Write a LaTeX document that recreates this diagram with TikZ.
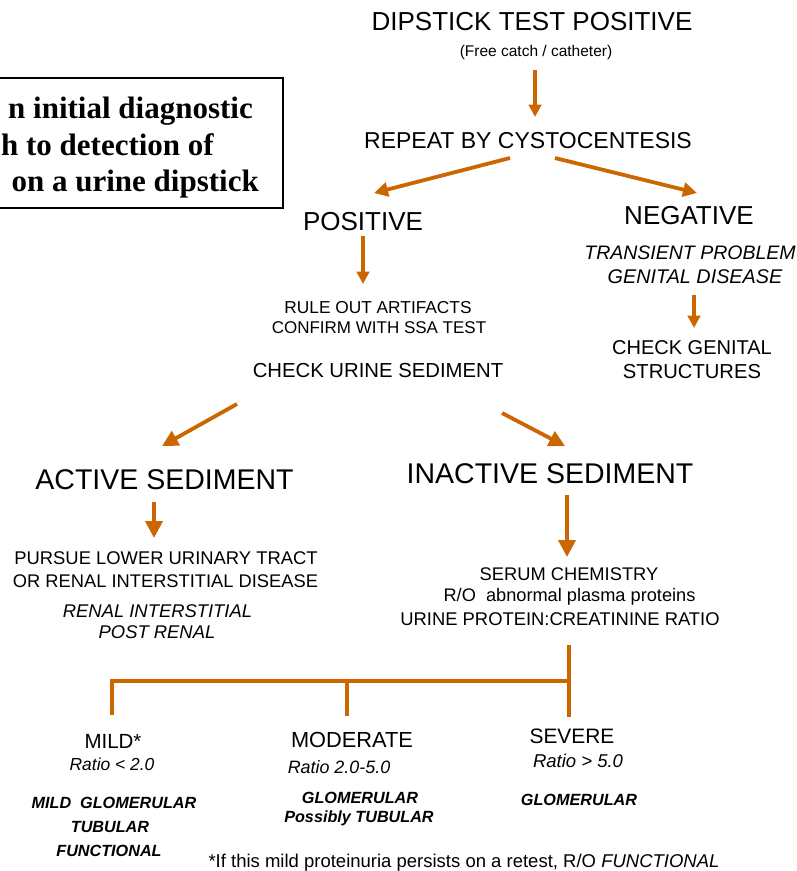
\documentclass[tikz,border=0pt]{standalone}
\usepackage{fontspec}
\setmainfont{Liberation Sans}
\newfontfamily\serifbox{Liberation Serif}
\usetikzlibrary{arrows.meta}
\definecolor{arr}{RGB}{204,102,0}
\begin{document}
\begin{tikzpicture}[x=1pt,y=-1pt,
  txt/.style={anchor=base,inner sep=0pt,font=\fontsize{#1}{#1}\selectfont},
  itx/.style={anchor=base,inner sep=0pt,font=\fontsize{#1}{#1}\selectfont\itshape},
  bix/.style={anchor=base,inner sep=0pt,font=\fontsize{16.2}{16.2}\selectfont\bfseries\itshape},
  ttl/.style={anchor=base east,inner sep=0pt,font=\fontsize{31}{31}\selectfont\serifbox\bfseries},
  flow/.style={draw=arr,line width=3.8pt,-{Triangle[length=#1,width=#1]}},
  flow/.default=12.5pt,
  bar/.style={draw=arr,line width=4.5pt},
  ]
\useasboundingbox (0,0) rectangle (797,871);
\clip (0,0) rectangle (797,871);
% title box
\draw[line width=2pt] (-20,78) rectangle (283,208);
\node[ttl] (t1) at (253,118) {n initial diagnostic};
\node[ttl] (t2) at (214,155) {h to detection of};
\node[ttl] (t3) at (259,191) {on a urine dipstick};
% top
\node[txt=26] (dip) at (532,30) {DIPSTICK TEST POSITIVE};
\node[txt=15.5] (free) at (536,56) {(Free catch / catheter)};
\node[txt=23] (rep) at (528,148) {REPEAT BY CYSTOCENTESIS};
\coordinate (a1s) at (535,70); \coordinate (a1e) at (535,117);
\draw[flow] (a1s) -- (a1e);
\coordinate (a2s) at (510,158); \coordinate (a2e) at (374,193);
\coordinate (a3s) at (555,158); \coordinate (a3e) at (697,193);
\draw[flow=14pt] (a2s) -- (a2e);
\draw[flow=14pt] (a3s) -- (a3e);
\node[txt=26] (pos) at (363,230) {POSITIVE};
\node[txt=26] (neg) at (689,224) {NEGATIVE};
\node[itx=19.5] (tr) at (690,259) {TRANSIENT PROBLEM};
\node[itx=19.8] (gd) at (695,283) {GENITAL DISEASE};
\coordinate (a4s) at (363,236); \coordinate (a4e) at (363,284);
\draw[flow] (a4s) -- (a4e);
\coordinate (a5s) at (694,295); \coordinate (a5e) at (694,328);
\draw[flow] (a5s) -- (a5e);
\node[txt=17.3] (rule) at (378,313) {RULE OUT ARTIFACTS};
\node[txt=17] (conf) at (379,333) {CONFIRM WITH SSA TEST};
\node[txt=20.3] (chk) at (378,377) {CHECK URINE SEDIMENT};
\node[txt=20] (cg1) at (692,354) {CHECK GENITAL};
\node[txt=20.2] (cg2) at (692,378) {STRUCTURES};
\coordinate (a6s) at (237,404); \coordinate (a6e) at (162,446);
\coordinate (a7s) at (502,413); \coordinate (a7e) at (565,446);
\draw[flow=16pt] (a6s) -- (a6e);
\draw[flow=16pt] (a7s) -- (a7e);
\node[txt=28.5] (act) at (164.5,489) {ACTIVE SEDIMENT};
\node[txt=28.5] (inact) at (550,483) {INACTIVE SEDIMENT};
\coordinate (a8s) at (154,502); \coordinate (a8e) at (154,538);
\coordinate (a9s) at (567,495); \coordinate (a9e) at (567,557);
\draw[flow=17pt] (a8s) -- (a8e);
\draw[flow=17pt] (a9s) -- (a9e);
\node[txt=18.4] (pur1) at (166,564) {PURSUE LOWER URINARY TRACT};
\node[txt=18.3] (pur2) at (165.5,587) {OR RENAL INTERSTITIAL DISEASE};
\node[itx=18.4] (ri) at (157.5,617) {RENAL INTERSTITIAL};
\node[itx=18.4] (pr) at (157,638) {POST RENAL};
\node[txt=18.3] (ser) at (569,580) {SERUM CHEMISTRY};
\node[txt=18.2] (ro) at (569.5,601) {R/O\ \ abnormal plasma proteins};
\node[txt=18.4] (upc) at (560,625) {URINE PROTEIN:CREATININE RATIO};
% bracket
\coordinate (b0) at (569,645);
\coordinate (bR) at (569,717);
\coordinate (bL) at (112,681);
\coordinate (bM) at (347,681);
\coordinate (bJ) at (569,681);
\draw[bar] (b0) -- (bR);
\draw[bar] ([xshift=-2.25pt]bL) -- (bJ);
\draw[bar] (bL) -- (112,715);
\draw[bar] (bM) -- (347,716);
\node[txt=20.5] (mild) at (113,748) {MILD*};
\node[itx=17.4] (r1) at (112,770) {Ratio < 2.0};
\node[txt=21.8] (mod) at (352,747) {MODERATE};
\node[itx=17.9] (r2) at (339,773) {Ratio 2.0-5.0};
\node[txt=20.9] (sev) at (572,743) {SEVERE};
\node[itx=18.5] (r3) at (578,767) {Ratio > 5.0};
\node[bix] (m1) at (114,808) {MILD\ \ GLOMERULAR};
\node[bix] (m2) at (110,832) {TUBULAR};
\node[bix] (m3) at (109,856) {FUNCTIONAL};
\node[bix] (g1) at (360,803) {GLOMERULAR};
\node[bix] (g2) at (359,822) {Possibly TUBULAR};
\node[bix] (g3) at (579,805) {GLOMERULAR};
\node[txt=18.5] (fn) at (464,867) {*If this mild proteinuria persists on a retest, R/O \textit{FUNCTIONAL}};
\end{tikzpicture}
\end{document}
